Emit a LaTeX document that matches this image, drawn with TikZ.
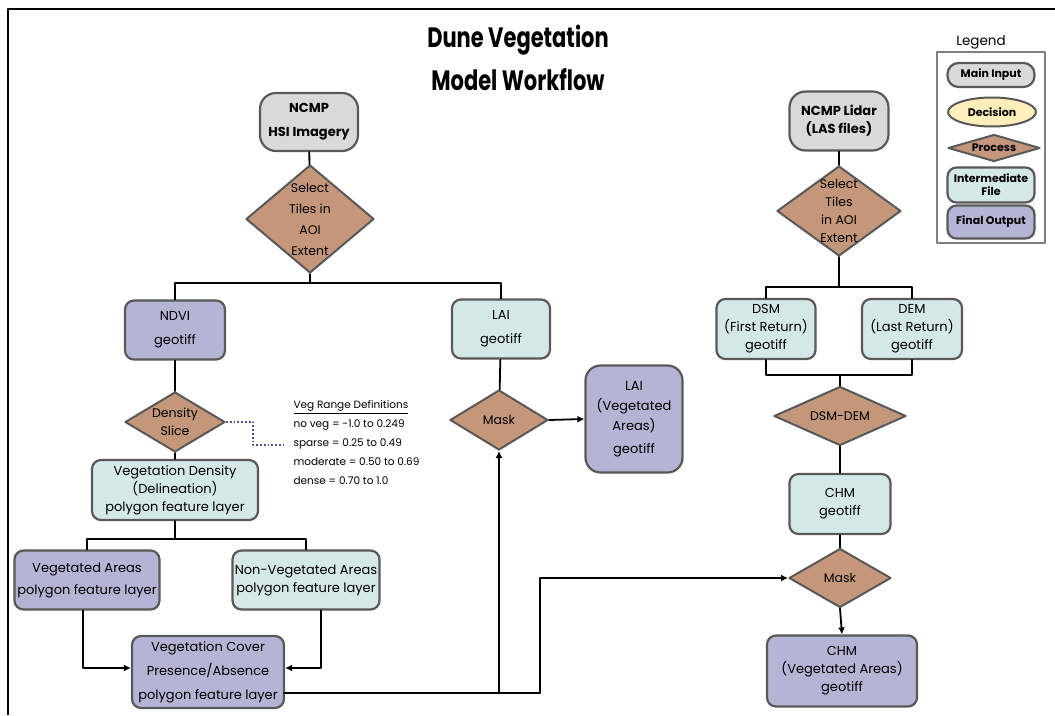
\documentclass[tikz,border=0pt]{standalone}
\usepackage{fontspec}
\setmainfont{Poppins}
\newfontfamily\titlefont{Poppins}[FakeStretch=0.75]
\usetikzlibrary{arrows.meta}
\usetikzlibrary{shapes.geometric}
\usetikzlibrary{positioning}
\definecolor{inputgray}{RGB}{217,217,217}
\definecolor{edgegray}{RGB}{89,89,89}
\definecolor{processbrown}{RGB}{196,150,122}
\definecolor{interteal}{RGB}{213,232,232}
\definecolor{finalpurple}{RGB}{180,180,212}
\definecolor{decisionyellow}{RGB}{253,238,186}
\definecolor{dotblue}{RGB}{80,80,150}
\definecolor{legendgray}{RGB}{128,128,128}
\tikzset{
  mainin/.style={rectangle,rounded corners=16pt,draw=edgegray,fill=inputgray,line width=2.2pt,
    inner sep=0pt,align=center,minimum width=98pt,minimum height=58pt,font=\bfseries\fontsize{13}{18}\selectfont},
  interfile/.style={rectangle,rounded corners=9pt,draw=edgegray,fill=interteal,line width=2.2pt,
    inner sep=0pt,align=center,font=\fontsize{13}{18}\selectfont},
  finalout/.style={interfile,fill=finalpurple},
  process/.style={diamond,draw=edgegray,fill=processbrown,line width=2pt,inner sep=0pt},
  dlabel/.style={align=center,font=\fontsize{12.5}{18}\selectfont},
  legtext/.style={font=\bfseries\fontsize{11}{13}\selectfont},
  link/.style={line width=1.8pt,color=black},
  flow/.style={link,-{Latex[length=7pt,width=7pt]}}
}
\begin{document}
\begin{tikzpicture}[line cap=round,line join=round,x=1pt,y=-1pt]
\useasboundingbox (0,0) rectangle (1055,715);
\draw [line width=2.2pt,line cap=butt] (8,715) -- (8,9) -- (1055,9);
\node[font=\titlefont\bfseries\fontsize{28}{32}\selectfont] (title1) at (518,40) {Dune Vegetation};
\node[font=\titlefont\bfseries\fontsize{28}{32}\selectfont] (title2) at (518,80) {Model Workflow};

\node[font=\fontsize{13.5}{16}\selectfont] (legtitle) at (981,42) {Legend};
\draw [color=legendgray,line width=1.6pt] (937,52) rectangle (1045,243);
\node[mainin,rounded corners=11pt,minimum width=87pt,minimum height=24pt,legtext] (legin) at (991,75) {Main Input};
\node[ellipse,draw=edgegray,fill=decisionyellow,line width=2pt,inner sep=0pt,minimum width=88pt,minimum height=29pt,legtext] (legdec) at (992,112) {Decision};
\node[process,minimum width=92pt,minimum height=27pt,label={[legtext]center:Process}] (legproc) at (994,148) {};
\node[interfile,minimum width=87pt,minimum height=35pt,legtext] (legint) at (991,185) {Intermediate\\File};
\node[finalout,minimum width=87pt,minimum height=33pt,legtext] (legfin) at (991,222) {Final Output};

\node[mainin] (hsi) at (309,122) {NCMP\\[6pt]HSI Imagery};
\node[process,minimum width=128pt,minimum height=108pt,label={[dlabel]center:Select\\[3pt]Tiles in\\[3pt]AOI\\[3pt]Extent}] (hsisel) at (310,219) {};
\node[finalout,minimum width=100pt,minimum height=59pt] (ndvi) at (175,330) {NDVI\\[6pt]geotiff};
\node[interfile,minimum width=98pt,minimum height=59pt] (lai) at (501,329) {LAI\\[6pt]geotiff};
\node[process,minimum width=100pt,minimum height=60pt,label={[dlabel]center:Density\\Slice}] (slice) at (175,422) {};
\node[anchor=north west,align=left,font=\fontsize{10.5}{19}\selectfont] (vegdef) at (290,397)
  {\underline{Veg Range Definitions}\\no veg = -1.0 to 0.249\\sparse = 0.25 to 0.49\\moderate = 0.50 to 0.69\\dense = 0.70 to 1.0};
\node[interfile,minimum width=166pt,minimum height=60pt] (vegdens) at (175,490) {Vegetation Density\\(Delineation)\\polygon feature layer};
\node[finalout,minimum width=145pt,minimum height=59pt] (vegareas) at (87,580) {Vegetated Areas\\[4pt]polygon feature layer};
\node[interfile,minimum width=147pt,minimum height=59pt] (nonveg) at (306,580) {Non-Vegetated Areas\\polygon feature layer};
\node[finalout,minimum width=152pt,minimum height=72pt] (cover) at (208,672) {Vegetation Cover\\[6pt]Presence/Absence\\[6pt]polygon feature layer};
\node[process,minimum width=98pt,minimum height=60pt,label={[dlabel]center:Mask}] (laimask) at (499,420) {};
\node[finalout,rounded corners=15pt,minimum width=97pt,minimum height=107pt,font=\fontsize{13}{20}\selectfont] (laiveg) at (634,419) {LAI\\(Vegetated\\Areas)\\[3pt]geotiff};

\node[mainin,minimum width=99pt,minimum height=59pt] (lidar) at (839,121) {NCMP Lidar\\(LAS files)};
\node[process,minimum width=124pt,minimum height=90pt,label={[dlabel]center:Select\\Tiles\\in AOI\\Extent}] (lidsel) at (839,211) {};
\node[interfile,minimum width=99pt,minimum height=60pt] (dsm) at (766,329) {DSM\\(First Return)\\geotiff};
\node[interfile,minimum width=100pt,minimum height=60pt] (dem) at (912,329) {DEM\\(Last Return)\\geotiff};
\node[process,minimum width=132pt,minimum height=59pt,label={[dlabel]center:DSM-DEM}] (diff) at (840,416) {};
\node[interfile,minimum width=101pt,minimum height=60pt] (chm) at (840,504) {CHM\\geotiff};
\node[process,minimum width=102pt,minimum height=59pt,label={[dlabel]center:Mask}] (chmmask) at (840,578) {};
\node[finalout,minimum width=150pt,minimum height=71pt] (chmveg) at (842,671) {CHM\\(Vegetated Areas)\\geotiff};

\coordinate (hsisplit) at (310,283);
\coordinate (densplit) at (175,539);
\coordinate (dotend) at (284,445);
\coordinate (outline) at (284,693);
\coordinate (chmturn) at (540,693);
\coordinate (laibranch) at (499,693);
\coordinate (lidsplit) at (839,287);
\coordinate (demjoin) at (840,375);

\draw [link] (hsi) -- (hsisel);
\draw [link] (hsisel) -- (hsisplit);
\draw [link] (ndvi.north) |- (hsisplit) -| (lai.north);
\draw [link] (ndvi) -- (slice);
\draw [link] (slice) -- (vegdens);
\draw [line width=1.8pt,color=dotblue,dotted,line cap=butt] (slice.east) -- ++(27,0) |- (dotend);
\draw [link] (vegdens) -- (densplit);
\draw [link] (vegareas.north) |- (densplit) -| (nonveg.north);
\draw [flow] ([xshift=-4pt]vegareas.south) |- ([yshift=4pt]cover.west);
\draw [flow] ([xshift=15pt]nonveg.south) |- ([yshift=4pt]cover.east);
\draw [link] (outline) -- (chmturn);
\draw [flow] (chmturn) |- (chmmask.west);
\draw [flow] (laibranch) -- (laimask.south);
\draw [link] (lai) -- (laimask);
\draw [flow] (laimask.east) -- (laiveg.west);

\draw [link] (lidar) -- (lidsel);
\draw [link] (lidsel) -- (lidsplit);
\draw [link] (dsm.north) |- (lidsplit) -| (dem.north);
\draw [link] (dsm.south) |- (demjoin) -| (dem.south);
\draw [link] (demjoin) -- (diff);
\draw [link] (diff) -- (chm);
\draw [link] (chm) -- (chmmask);
\draw [flow] (chmmask.south) -- (chmveg.north);
\end{tikzpicture}
\end{document}
